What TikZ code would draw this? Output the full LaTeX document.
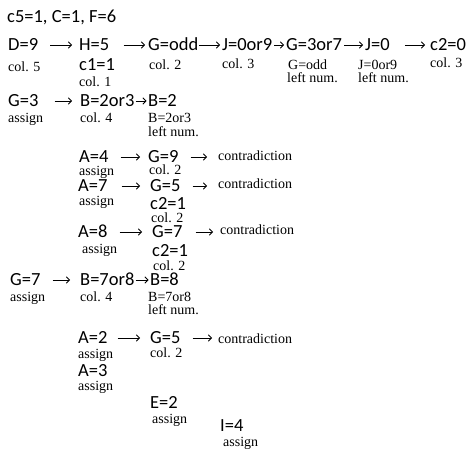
\documentclass[tikz,border=0pt]{standalone}
\usepackage{fontspec}
\setmainfont{Liberation Serif}
\newfontfamily\calfont{Carlito}
\usetikzlibrary{arrows.meta}
\begin{document}
\begin{tikzpicture}[x=1pt,y=-1pt,
  mainlbl/.style={font=\calfont\fontsize{18.5}{21}\selectfont, inner sep=0pt, anchor=west, text height=11.9pt, text depth=0pt},
  sublbl/.style={font=\fontsize{14}{16}\selectfont, inner sep=0pt, anchor=west, text height=9.5pt, text depth=0pt},
  arr/.style={-{Straight Barb[length=3.2pt,width=6.5pt]}, line width=0.75pt},
  g/.style 2 args={shorten <=#1pt, shorten >=#2pt}]
\useasboundingbox (0,0) rectangle (474,457);
\node[mainlbl] (top) at (7,17) {c5=1, C=1, F=6};
% row 1
\node[mainlbl] (d9) at (8,45) {D=9};
\node[mainlbl] (h5) at (79,45) {H=5};
\node[mainlbl] (godd) at (148,45) {G=odd};
\node[mainlbl] (j09) at (222,45) {J=0or9};
\node[mainlbl] (g37) at (286,45) {G=3or7};
\node[mainlbl] (j0) at (365,45) {J=0};
\node[mainlbl] (c20) at (430,45) {c2=0};
\node[sublbl] (s1) at (8,67) {col. 5};
\node[mainlbl] (c11) at (79,65) {c1=1};
\node[sublbl] (s2) at (79,82) {col. 1};
\node[sublbl] (s3) at (149,65) {col. 2};
\node[sublbl] (s4) at (222,64) {col. 3};
\node[sublbl] (s5) at (288,65) {G=odd};
\node[sublbl] (s6) at (287,78) {left num.};
\node[sublbl] (s7) at (358,65) {J=0or9};
\node[sublbl] (s8) at (358,78) {left num.};
\node[sublbl] (s9) at (430,63) {col. 3};
\draw[arr,g={12}{7}] (d9) -- (h5);
\draw[arr,g={14}{3}] (h5) -- (godd);
\draw[arr,g={1}{2}] (godd) -- (j09);
\draw[arr,g={2}{2}] (j09) -- (g37);
\draw[arr,g={2}{2}] (g37) -- (j0);
\draw[arr,g={15}{5}] (j0) -- (c20);
% row 2
\node[mainlbl] (g3) at (8,101) {G=3};
\node[mainlbl] (b23) at (80,101) {B=2or3};
\node[mainlbl] (b2) at (148,101) {B=2};
\node[sublbl] (s10) at (8,118) {assign};
\node[sublbl] (s11) at (80,118) {col. 4};
\node[sublbl] (s12) at (148,118) {B=2or3};
\node[sublbl] (s13) at (148,132) {left num.};
\draw[arr,g={16}{8}] (g3) -- (b23);
\draw[arr,g={1}{1.5}] (b23) -- (b2);
% A=4
\node[mainlbl] (a4) at (79,157) {A=4};
\node[mainlbl] (g9) at (148,157) {G=9};
\node[sublbl] (x1) at (218,156) {contradiction};
\node[sublbl] (s14) at (79,171) {assign};
\node[sublbl] (s15) at (149,170) {col. 2};
\draw[arr,g={12}{8}] (a4) -- (g9);
\draw[arr,g={12}{11}] (g9.east) -- (g9.east -| x1.west);
% A=7
\node[mainlbl] (a7) at (78,186) {A=7};
\node[mainlbl] (g5) at (150,186) {G=5};
\node[sublbl] (x2) at (218,184) {contradiction};
\node[sublbl] (s16) at (79,201) {assign};
\node[mainlbl] (c21a) at (150,204) {c2=1};
\node[sublbl] (s17) at (151,218) {col. 2};
\draw[arr,g={14}{10}] (a7) -- (g5);
\draw[arr,g={12}{11}] (g5.east) -- (g5.east -| x2.west);
% A=8
\node[mainlbl] (a8) at (78,232) {A=8};
\node[mainlbl] (g7) at (152,232) {G=7};
\node[sublbl] (x3) at (220,230) {contradiction};
\node[sublbl] (s18) at (82,249) {assign};
\node[mainlbl] (c21b) at (152,251) {c2=1};
\node[sublbl] (s19) at (153,266) {col. 2};
\draw[arr,g={12}{10}] (a8) -- (g7);
\draw[arr,g={13}{7}] (g7.east) -- (g7.east -| x3.west);
% G=7
\node[mainlbl] (g7b) at (10,280) {G=7};
\node[mainlbl] (b78) at (80,280) {B=7or8};
\node[mainlbl] (b8) at (150,280) {B=8};
\node[sublbl] (s20) at (10,297) {assign};
\node[sublbl] (s21) at (80,297) {col. 4};
\node[sublbl] (s22) at (148,297) {B=7or8};
\node[sublbl] (s23) at (148,310) {left num.};
\draw[arr,g={12}{10}] (g7b) -- (b78);
\draw[arr,g={1}{1.5}] (b78) -- (b8);
% A=2
\node[mainlbl] (a2) at (78,338) {A=2};
\node[mainlbl] (g5b) at (150,338) {G=5};
\node[sublbl] (x4) at (218,339) {contradiction};
\node[sublbl] (s24) at (78,354) {assign};
\node[sublbl] (s25) at (150,353) {col. 2};
\draw[arr,g={10}{10}] (a2) -- (g5b);
\draw[arr,g={12}{6}] (g5b.east) -- (g5b.east -| x4.west);
\node[mainlbl] (a3) at (78,371) {A=3};
\node[sublbl] (s26) at (78,386) {assign};
\node[mainlbl] (e2) at (150,403) {E=2};
\node[sublbl] (s27) at (152,419) {assign};
\node[mainlbl] (i4) at (220,426) {I=4};
\node[sublbl] (s28) at (223,442) {assign};
\end{tikzpicture}
\end{document}
